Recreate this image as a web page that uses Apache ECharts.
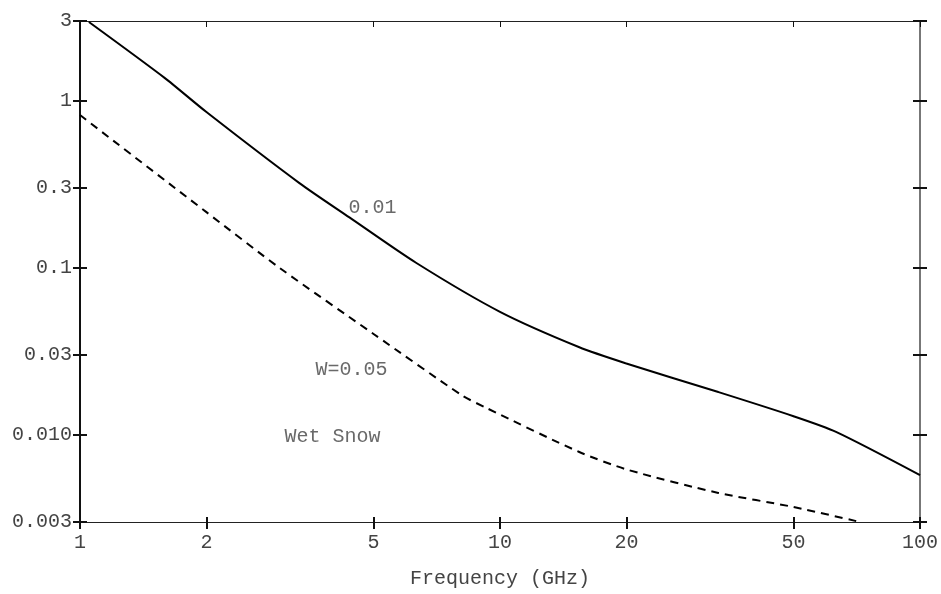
<!DOCTYPE html>
<html>
<head>
<meta charset="utf-8">
<script src="https://cdn.jsdelivr.net/npm/echarts@6/dist/echarts.min.js"></script>
<style>
html,body{margin:0;padding:0;background:#fff;}
#chart{width:941px;height:594px;}
</style>
</head>
<body>
<div id="chart"></div>
<script>
// Frequency (GHz) / value pairs
const solidFreq = [1.05, 1.59, 2.0, 3.33, 4.38, 6.31, 10, 15.4, 19.9, 33.1, 50, 63.1, 100];
const solidVals = [2.96, 1.37, 0.855, 0.321, 0.200, 0.107, 0.0544, 0.0335, 0.0268, 0.0180, 0.0129, 0.0104, 0.00573];
const dashFreq = [1, 2, 2.99, 5, 8.12, 9.26, 15.4, 20.2, 33.1, 50, 72];
const dashVals = [0.82, 0.215, 0.0995, 0.0401, 0.0172, 0.0145, 0.0079, 0.00615, 0.00448, 0.00369, 0.003];

const xTicks = [1, 2, 5, 10, 20, 50, 100];
const xTickLabels = ['1', '2', '5', '10', '20', '50', '100'];
const yTicks = [0.003, 0.01, 0.03, 0.1, 0.3, 1, 3];
const yTickLabels = ['0.003', '0.010', '0.03', '0.1', '0.3', '1', '3'];

const annoText = ['0.01', 'W=0.05', 'Wet Snow'];
const annoFreq = [4.97, 4.43, 3.99];
const annoVals = [0.230, 0.0244, 0.00969];

const xName = 'Frequency (GHz)';

const FONT = '"Liberation Mono", "DejaVu Sans Mono", monospace';
const TXT = '#444';

function fmt(ticks, labels) {
  return function (v) {
    let best = 0, bd = Infinity;
    for (let i = 0; i < ticks.length; i++) {
      const d = Math.abs(Math.log(v) - Math.log(ticks[i]));
      if (d < bd) { bd = d; best = i; }
    }
    return labels[best];
  };
}

function xAx(opts) {
  return Object.assign({
    type: 'log', logBase: 10, min: 1, max: 100,
    splitLine: { show: false },
    axisLine: { show: true, lineStyle: { color: '#222', width: 1 } },
    axisLabel: { show: false },
    axisTick: { show: false }
  }, opts);
}
function yAx(opts) {
  return Object.assign({
    type: 'log', logBase: 10, min: 0.003, max: 3,
    splitLine: { show: false },
    axisLine: { show: true, lineStyle: { color: '#111', width: 2 } },
    axisLabel: { show: false },
    axisTick: { show: false }
  }, opts);
}

const chart = echarts.init(document.getElementById('chart'), null, { renderer: 'canvas' });

chart.setOption({
  animation: false,
  backgroundColor: '#fff',
  grid: { left: 80, right: 19, top: 21, bottom: 72, containLabel: false },
  xAxis: [
    xAx({
      position: 'bottom',
      name: xName, nameLocation: 'middle', nameGap: 47,
      nameTextStyle: { fontFamily: FONT, fontSize: 20, color: TXT },
      axisTick: { show: true, inside: false, length: 7, customValues: xTicks, lineStyle: { color: '#111', width: 2 } },
      axisLabel: { show: true, customValues: xTicks, margin: 11, fontFamily: FONT, fontSize: 20, color: TXT, formatter: fmt(xTicks, xTickLabels) }
    }),
    xAx({
      position: 'bottom',
      axisTick: { show: true, inside: true, length: 5, customValues: xTicks, lineStyle: { color: '#111', width: 2 } }
    }),
    xAx({
      position: 'top',
      axisTick: { show: true, inside: true, length: 6, customValues: xTicks, lineStyle: { color: '#111', width: 1 } }
    })
  ],
  yAxis: [
    yAx({
      position: 'left',
      axisTick: { show: true, inside: false, length: 7, customValues: yTicks, lineStyle: { color: '#111', width: 2 } },
      axisLabel: { show: true, customValues: yTicks, margin: 8, fontFamily: FONT, fontSize: 20, color: TXT, formatter: fmt(yTicks, yTickLabels) }
    }),
    yAx({
      position: 'left',
      axisTick: { show: true, inside: true, length: 7, customValues: yTicks, lineStyle: { color: '#111', width: 2 } }
    }),
    yAx({
      position: 'right',
      axisLine: { show: true, lineStyle: { color: '#777', width: 2 } },
      axisTick: { show: true, inside: true, length: 7, customValues: yTicks, lineStyle: { color: '#111', width: 2 } }
    }),
    yAx({
      position: 'right',
      axisLine: { show: true, lineStyle: { color: '#777', width: 2 } },
      axisTick: { show: true, inside: false, length: 7, customValues: yTicks, lineStyle: { color: '#111', width: 2 } }
    })
  ],
  series: [
    {
      type: 'line', xAxisIndex: 0, yAxisIndex: 0,
      data: solidFreq.map((f, i) => [f, solidVals[i]]),
      showSymbol: false, smooth: 0.25, clip: true,
      lineStyle: { color: '#000', width: 2 }
    },
    {
      type: 'line', xAxisIndex: 0, yAxisIndex: 0,
      data: dashFreq.map((f, i) => [f, dashVals[i]]),
      showSymbol: false, smooth: 0.25, clip: true,
      lineStyle: { color: '#000', width: 2, type: [8, 6] }
    },
    {
      type: 'scatter', xAxisIndex: 0, yAxisIndex: 0,
      symbolSize: 0, silent: true,
      data: annoFreq.map((f, i) => ({ value: [f, annoVals[i]], name: annoText[i] })),
      label: {
        show: true, position: 'inside', formatter: p => p.name,
        fontFamily: FONT, fontSize: 20, color: TXT
      }
    }
  ]
});
</script>
</body>
</html>
